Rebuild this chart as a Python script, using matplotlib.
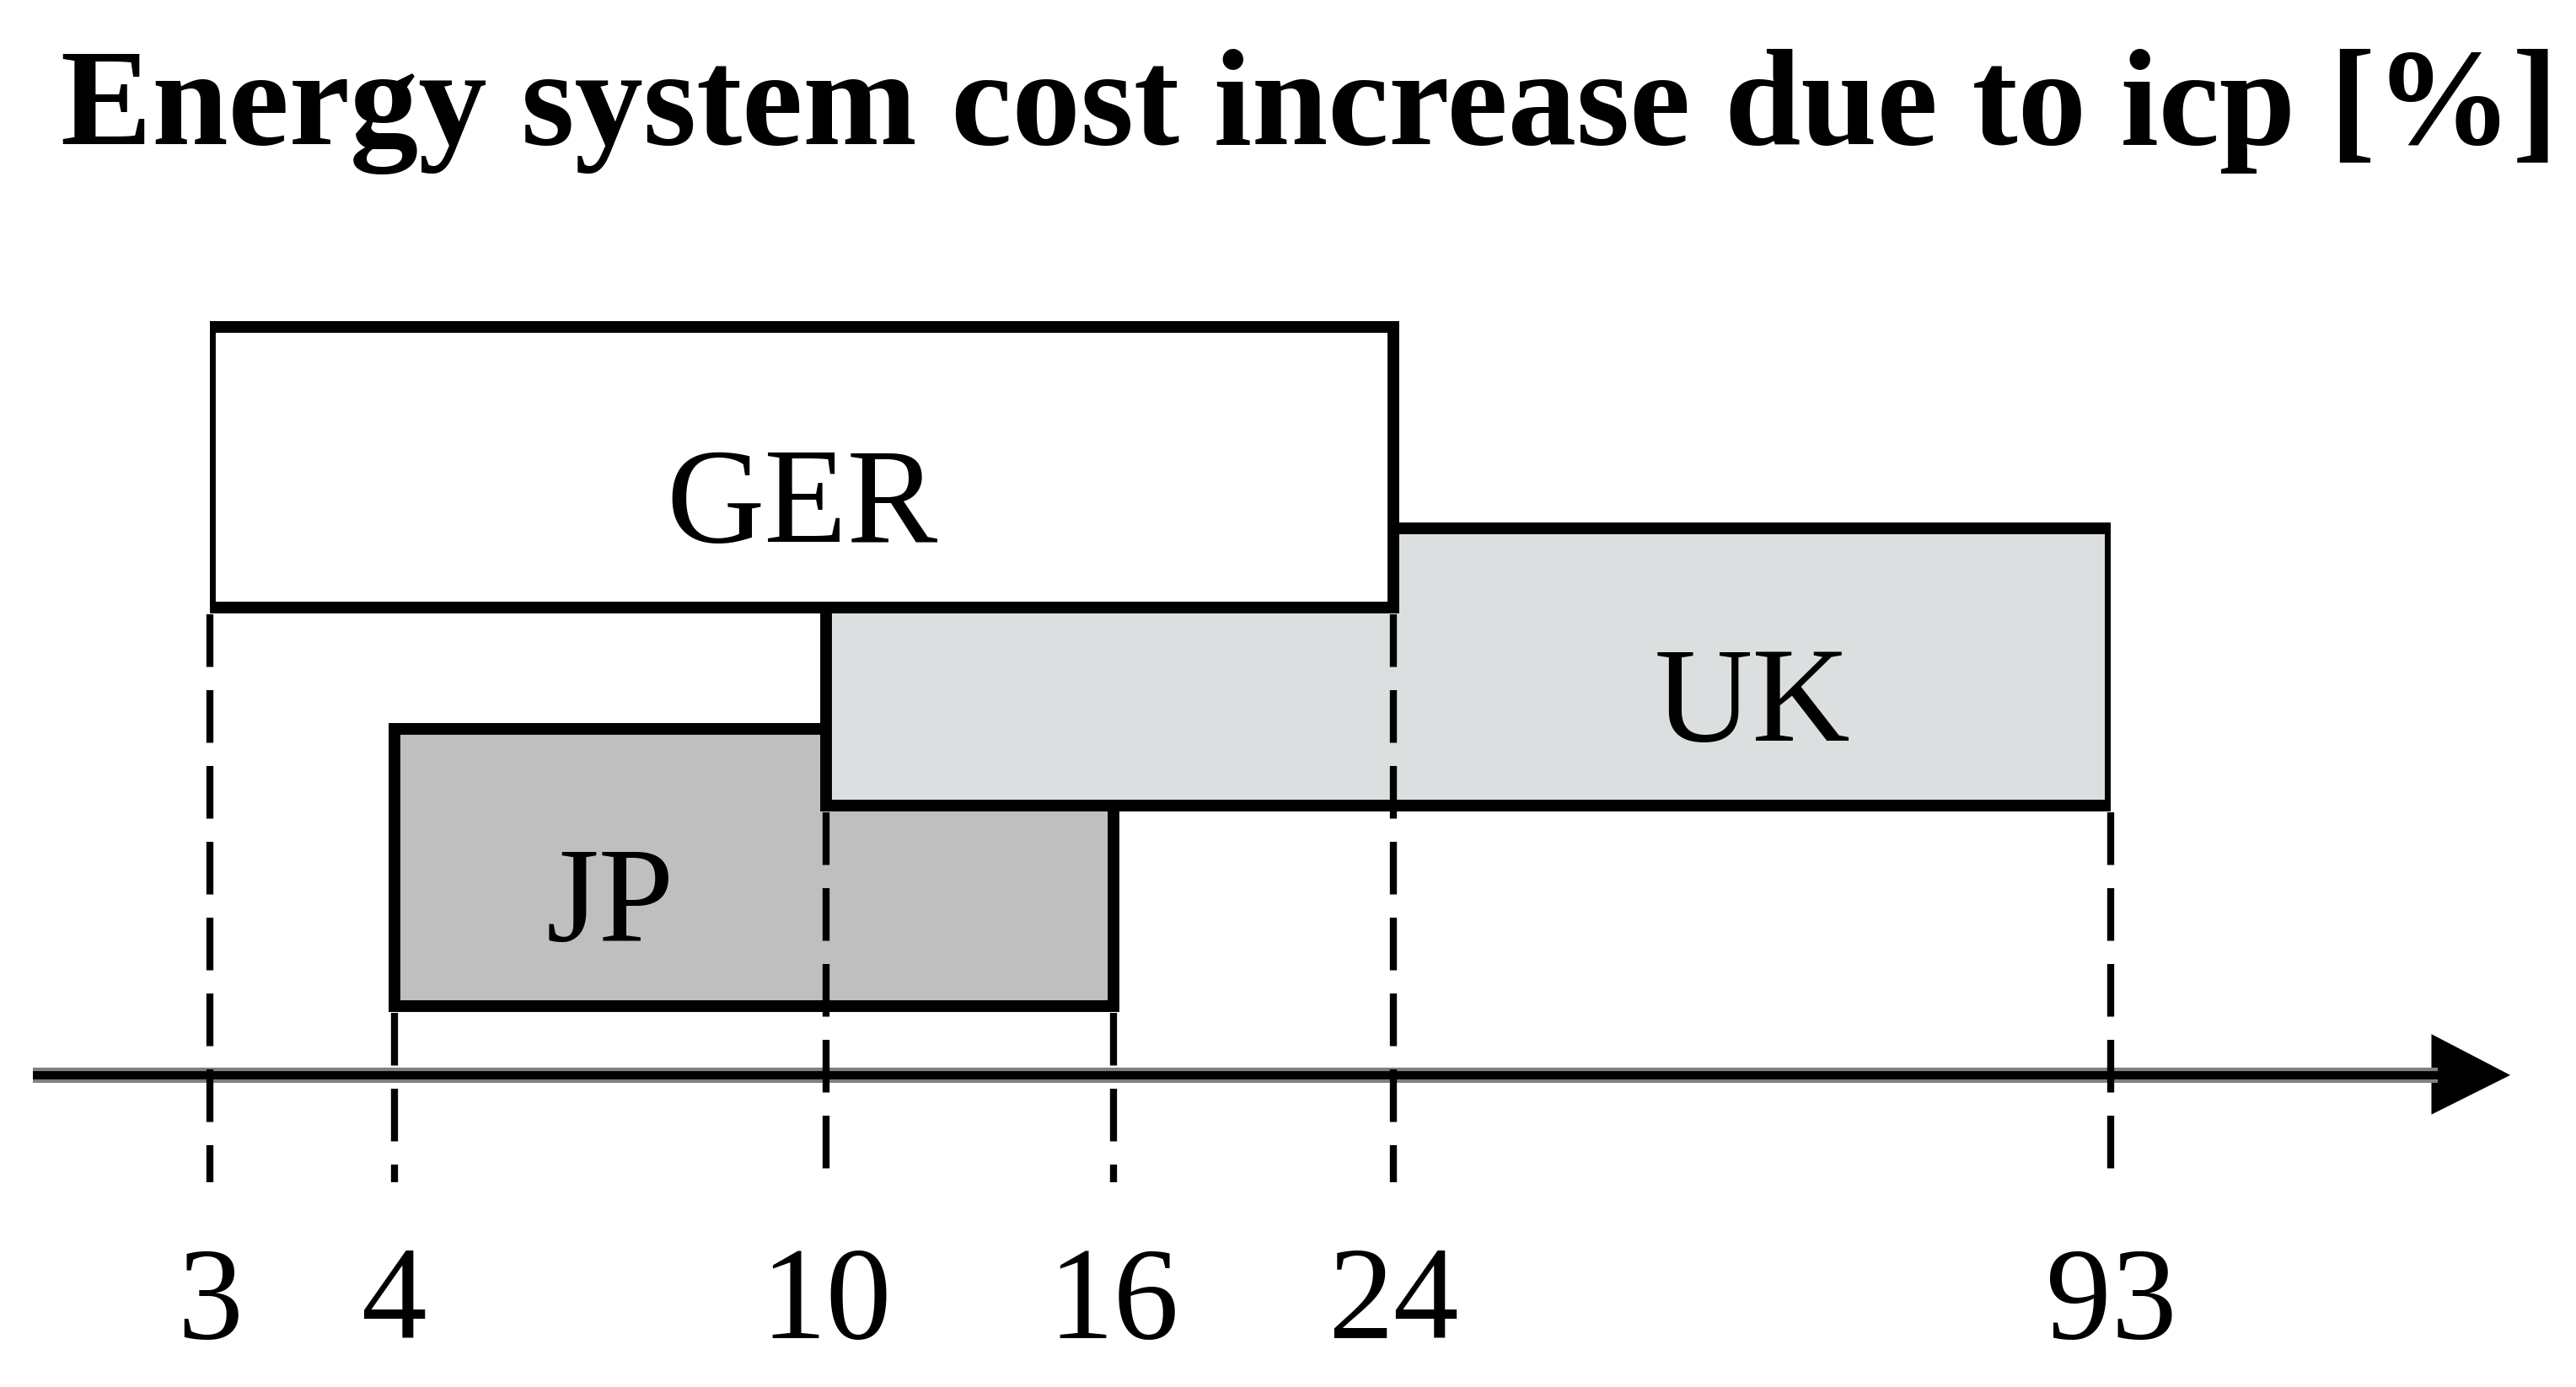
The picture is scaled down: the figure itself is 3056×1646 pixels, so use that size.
import numpy as np
import matplotlib
matplotlib.use('Agg')
import matplotlib.pyplot as plt
from matplotlib.patches import Polygon

# data: cost increase ranges [%] per country
countries = ['GER', 'UK', 'JP']
low = [3, 10, 4]
high = [24, 93, 16]
# label is centred on the visible part of each box
label_from = [3, 24, 4]
label_to = [24, 93, 10]
tick_values = [3, 4, 10, 16, 24, 93]
tick_labels = ['3', '4', '10', '16', '24', '93']

# the axis in the reference is not to scale: breakpoints sit at these spots
W, H = 1568, 845
tick_spots = [128, 240, 503, 678, 848, 1285]

# box rows (top, bottom) and fills, in page units
rows = {'GER': (199, 370), 'UK': (322, 491), 'JP': (444, 613)}
fills = {'GER': 'white', 'UK': '#dcdfdf', 'JP': '#bfbfbf'}
zorders = {'GER': 4, 'UK': 3, 'JP': 2}
dash_end = 720
axis_y = 655

plt.rcParams['font.family'] = ['Liberation Serif', 'DejaVu Serif']

fig = plt.figure(figsize=(30.56, 16.46), dpi=100)

# background axes for the arrow axis, page units
bg = fig.add_axes([0, 0, 1, 1])
bg.set_xlim(0, W)
bg.set_ylim(H, 0)
bg.axis('off')
bg.plot([20, 1484], [axis_y, axis_y], color='#808080', lw=13, solid_capstyle='butt')
bg.plot([20, 1484], [axis_y, axis_y], color='black', lw=7, solid_capstyle='butt')
bg.add_patch(Polygon([[1480, 630], [1528, axis_y], [1480, 679]], closed=True,
                     facecolor='black', edgecolor='none'))

# main axes with piecewise linear scale
ax = fig.add_axes([tick_spots[0] / W, 0, (tick_spots[-1] - tick_spots[0]) / W, 1])
ax.patch.set_alpha(0)
fwd = lambda x: np.interp(x, tick_values, tick_spots)
inv = lambda p: np.interp(p, tick_spots, tick_values)
ax.set_xscale('function', functions=(fwd, inv))
ax.set_xlim(tick_values[0], tick_values[-1])
ax.set_ylim(H, 0)
ax.axis('off')

for i, c in enumerate(countries):
    top, bot = rows[c]
    ax.bar(low[i], bot - top, bottom=top, width=high[i] - low[i], align='edge',
           color=fills[c], edgecolor='black', linewidth=10, zorder=zorders[c])
    xm = inv((fwd(label_from[i]) + fwd(label_to[i])) / 2)
    ax.text(xm, bot - 40, c, ha='center', va='baseline', fontsize=116,
            zorder=zorders[c] + 0.5)
    for v in (low[i], high[i]):
        ax.plot([v, v], [bot + 4, dash_end], color='black', lw=6,
                dashes=(7.5, 3.3), zorder=6, clip_on=False)

for v, t in zip(tick_values, tick_labels):
    ax.text(v, 815, t, ha='center', va='baseline', fontsize=112)

fig.text(797 / W, 1 - 88 / H, 'Energy system cost increase due to icp [%]',
         ha='center', va='baseline', fontsize=117, fontweight='bold')

fig.savefig('out.png', dpi=100)
